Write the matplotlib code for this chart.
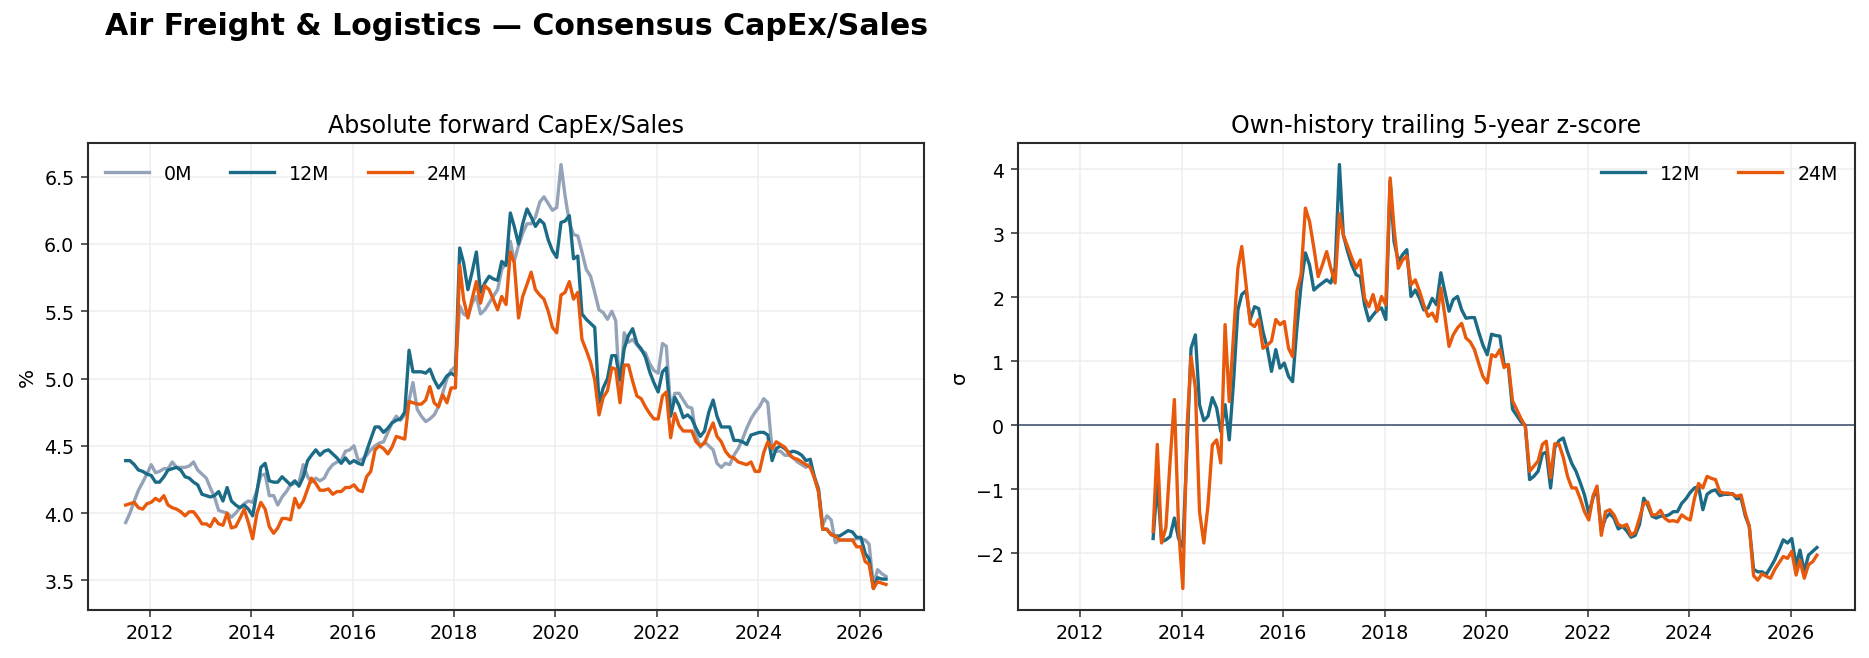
"""Air Freight & Logistics consensus CapEx/Sales: absolute level and own-history z-score."""

import matplotlib

matplotlib.use("Agg")
import matplotlib.pyplot as plt
import numpy as np
import pandas as pd

# ---- data (monthly, from Jul 2011) ----
start_month = "2011-07-01"

capex_0m = [
    3.93, 4.00, 4.09, 4.17, 4.23, 4.29, 4.36, 4.30, 4.31, 4.33,
    4.33, 4.38, 4.34, 4.34, 4.34, 4.35, 4.38, 4.32, 4.29, 4.26,
    4.19, 4.12, 4.02, 4.01, 4.00, 3.97, 4.00, 4.04, 4.07, 4.09,
    4.08, 4.17, 4.28, 4.29, 4.13, 4.13, 4.06, 4.12, 4.16, 4.21,
    4.22, 4.23, 4.36, 4.27, 4.23, 4.26, 4.24, 4.26, 4.32, 4.36,
    4.38, 4.39, 4.46, 4.47, 4.50, 4.39, 4.40, 4.43, 4.47, 4.50,
    4.52, 4.53, 4.60, 4.67, 4.72, 4.69, 4.73, 4.84, 4.97, 4.77,
    4.72, 4.68, 4.70, 4.73, 4.79, 4.89, 5.00, 5.06, 5.09, 5.54,
    5.48, 5.46, 5.56, 5.61, 5.48, 5.51, 5.56, 5.61, 5.66, 5.81,
    5.86, 6.02, 5.87, 5.99, 6.08, 6.15, 6.15, 6.20, 6.31, 6.35,
    6.30, 6.25, 6.27, 6.59, 6.36, 6.16, 6.07, 6.06, 5.94, 5.81,
    5.76, 5.64, 5.51, 5.49, 5.44, 5.50, 5.43, 4.87, 5.34, 5.27,
    5.29, 5.25, 5.21, 5.19, 5.11, 5.06, 5.04, 5.26, 5.24, 4.77,
    4.89, 4.89, 4.84, 4.79, 4.78, 4.58, 4.49, 4.53, 4.50, 4.47,
    4.37, 4.34, 4.37, 4.36, 4.43, 4.48, 4.55, 4.63, 4.70, 4.75,
    4.79, 4.85, 4.82, 4.47, 4.46, 4.46, 4.43, 4.43, 4.41, 4.38,
    4.36, 4.34, 4.37, 4.27, 4.19, 3.91, 3.98, 3.95, 3.78, 3.80,
    3.80, 3.80, 3.80, 3.81, 3.81, 3.80, 3.77, 3.46, 3.58, 3.55,
    3.53,
]

capex_12m = [
    4.39, 4.39, 4.36, 4.32, 4.31, 4.29, 4.28, 4.23, 4.23, 4.27,
    4.32, 4.33, 4.34, 4.32, 4.27, 4.26, 4.23, 4.21, 4.14, 4.13,
    4.12, 4.13, 4.16, 4.09, 4.19, 4.09, 4.06, 4.04, 4.06, 4.03,
    3.98, 4.16, 4.34, 4.37, 4.24, 4.23, 4.23, 4.27, 4.24, 4.21,
    4.24, 4.20, 4.27, 4.39, 4.43, 4.47, 4.43, 4.46, 4.47, 4.44,
    4.41, 4.37, 4.41, 4.37, 4.39, 4.37, 4.36, 4.46, 4.55, 4.64,
    4.64, 4.60, 4.63, 4.67, 4.69, 4.70, 4.75, 5.21, 5.05, 5.05,
    5.05, 5.04, 5.07, 4.99, 4.93, 4.97, 5.02, 5.04, 5.02, 5.97,
    5.86, 5.66, 5.79, 5.94, 5.64, 5.71, 5.76, 5.74, 5.73, 5.87,
    5.84, 6.23, 6.13, 6.00, 6.15, 6.26, 6.20, 6.13, 6.18, 6.15,
    6.03, 5.95, 5.90, 6.16, 6.17, 6.21, 5.89, 5.91, 5.48, 5.44,
    5.41, 5.38, 4.82, 4.93, 5.00, 5.17, 5.17, 4.99, 5.22, 5.32,
    5.37, 5.26, 5.22, 5.16, 5.05, 4.97, 4.90, 5.05, 5.08, 4.72,
    4.86, 4.80, 4.71, 4.73, 4.70, 4.63, 4.57, 4.61, 4.75, 4.84,
    4.72, 4.64, 4.64, 4.64, 4.54, 4.54, 4.53, 4.51, 4.58, 4.59,
    4.60, 4.60, 4.58, 4.39, 4.48, 4.50, 4.48, 4.45, 4.46, 4.45,
    4.43, 4.39, 4.40, 4.26, 4.17, 3.88, 3.88, 3.84, 3.83, 3.83,
    3.85, 3.87, 3.86, 3.82, 3.82, 3.70, 3.66, 3.44, 3.52, 3.51,
    3.51,
]

capex_24m = [
    4.06, 4.07, 4.08, 4.04, 4.03, 4.07, 4.08, 4.11, 4.09, 4.13,
    4.06, 4.04, 4.03, 4.01, 3.98, 4.01, 4.01, 3.97, 3.92, 3.92,
    3.90, 3.96, 3.92, 3.91, 4.00, 3.89, 3.90, 3.96, 4.03, 3.93,
    3.81, 4.00, 4.08, 4.03, 3.90, 3.85, 3.89, 3.96, 3.96, 3.95,
    4.11, 4.04, 4.09, 4.18, 4.26, 4.22, 4.17, 4.17, 4.18, 4.14,
    4.16, 4.16, 4.19, 4.19, 4.21, 4.17, 4.16, 4.27, 4.31, 4.47,
    4.50, 4.48, 4.44, 4.49, 4.57, 4.56, 4.55, 4.83, 4.82, 4.81,
    4.81, 4.84, 4.94, 4.82, 4.79, 4.88, 4.82, 4.93, 4.93, 5.84,
    5.59, 5.45, 5.59, 5.72, 5.56, 5.69, 5.66, 5.59, 5.51, 5.61,
    5.55, 5.94, 5.86, 5.45, 5.61, 5.70, 5.79, 5.66, 5.62, 5.59,
    5.50, 5.38, 5.34, 5.62, 5.64, 5.72, 5.59, 5.64, 5.29, 5.21,
    5.12, 4.99, 4.73, 4.86, 4.91, 5.08, 5.07, 4.82, 5.10, 5.10,
    4.98, 4.87, 4.85, 4.79, 4.74, 4.70, 4.70, 4.87, 4.90, 4.56,
    4.74, 4.65, 4.61, 4.61, 4.61, 4.53, 4.50, 4.52, 4.60, 4.67,
    4.57, 4.53, 4.46, 4.42, 4.41, 4.38, 4.37, 4.36, 4.38, 4.31,
    4.31, 4.45, 4.53, 4.48, 4.53, 4.51, 4.49, 4.44, 4.41, 4.40,
    4.38, 4.36, 4.34, 4.26, 4.16, 3.88, 3.88, 3.84, 3.83, 3.80,
    3.80, 3.80, 3.80, 3.75, 3.75, 3.64, 3.62, 3.44, 3.49, 3.48,
    3.47,
]

# z-score needs 24 months of history -> first value in Jun 2013
z_first_index = 23

z_12m = [
    -1.77, -0.90, -1.82, -1.79, -1.74, -1.45, -1.77,
    -1.90, -0.30, 1.20, 1.41, 0.32, 0.07, 0.14, 0.43, 0.27, -0.10,
    0.32, -0.23, 0.68, 1.80, 2.04, 2.10, 1.65, 1.85, 1.82, 1.46,
    1.20, 0.84, 1.18, 0.89, 0.97, 0.76, 0.68, 1.52, 2.19, 2.69,
    2.50, 2.11, 2.17, 2.22, 2.27, 2.22, 2.45, 4.07, 2.97, 2.71,
    2.50, 2.35, 2.32, 1.88, 1.63, 1.72, 1.80, 1.83, 1.65, 3.81,
    2.87, 2.56, 2.66, 2.74, 2.01, 2.11, 1.98, 1.80, 1.83, 1.98,
    1.88, 2.38, 2.09, 1.78, 1.96, 2.01, 1.80, 1.67, 1.68, 1.68,
    1.45, 1.25, 1.10, 1.42, 1.40, 1.39, 0.95, 0.92, 0.25, 0.15,
    0.05, 0.00, -0.85, -0.80, -0.72, -0.45, -0.42, -0.98, -0.35, -0.24,
    -0.20, -0.42, -0.60, -0.72, -0.90, -1.09, -1.38, -1.13, -1.00, -1.65,
    -1.45, -1.38, -1.45, -1.62, -1.58, -1.65, -1.75, -1.72, -1.55, -1.14,
    -1.25, -1.42, -1.45, -1.42, -1.42, -1.40, -1.35, -1.35, -1.22, -1.15,
    -1.05, -0.98, -0.96, -1.32, -1.08, -1.03, -1.01, -1.10, -1.08, -1.08,
    -1.07, -1.15, -1.14, -1.42, -1.58, -2.25, -2.29, -2.29, -2.33, -2.22,
    -2.10, -1.95, -1.79, -1.84, -1.77, -2.19, -1.95, -2.29, -2.03, -1.97,
    -1.91,
]

z_24m = [
    -1.66, -0.30, -1.84, -1.60, -0.57, 0.40, -1.60,
    -2.55, 0.00, 1.07, 0.58, -1.35, -1.84, -1.25, -0.31, -0.23, -0.59,
    1.57, 0.37, 1.41, 2.45, 2.79, 2.19, 1.59, 1.54, 1.65, 1.20,
    1.25, 1.31, 1.65, 1.57, 1.62, 1.20, 1.07, 2.09, 2.35, 3.39,
    3.18, 2.77, 2.32, 2.50, 2.71, 2.45, 2.22, 3.30, 2.97, 2.79,
    2.61, 2.45, 2.58, 1.98, 1.85, 2.04, 1.78, 2.01, 1.88, 3.86,
    3.08, 2.45, 2.58, 2.64, 2.19, 2.27, 2.09, 1.88, 1.70, 1.75,
    1.62, 2.14, 1.72, 1.23, 1.41, 1.52, 1.59, 1.36, 1.30, 1.18,
    0.96, 0.76, 0.66, 1.10, 1.07, 1.18, 0.90, 0.95, 0.38, 0.24,
    0.10, -0.02, -0.72, -0.64, -0.56, -0.30, -0.25, -0.82, -0.29, -0.30,
    -0.50, -0.80, -0.98, -0.98, -1.15, -1.35, -1.48, -1.10, -0.95, -1.72,
    -1.35, -1.32, -1.40, -1.55, -1.58, -1.55, -1.72, -1.67, -1.45, -1.22,
    -1.20, -1.40, -1.40, -1.33, -1.45, -1.50, -1.49, -1.51, -1.40, -1.45,
    -1.48, -1.14, -0.91, -0.98, -0.80, -0.83, -0.85, -1.04, -1.06, -1.06,
    -1.08, -1.11, -1.09, -1.38, -1.58, -2.35, -2.42, -2.32, -2.36, -2.39,
    -2.25, -2.15, -2.05, -2.08, -1.97, -2.34, -2.11, -2.39, -2.18, -2.13,
    -2.03,
]

C_0M = "#94a3b8"
C_12M = "#1b6b87"
C_24M = "#e8590c"
C_ZERO = "#5b6b84"


def style_axis(ax):
    ax.grid(True, color="#ededed", linewidth=0.8)
    ax.set_axisbelow(True)
    for sp in ax.spines.values():
        sp.set_color("#2b2b2b")
        sp.set_linewidth(1.1)
    ax.tick_params(labelsize=10, color="#2b2b2b")


def main() -> None:
    dates = pd.date_range(start_month, periods=len(capex_12m), freq="MS") + pd.Timedelta(days=9)

    pad = [np.nan] * z_first_index
    z12 = np.array(pad + z_12m, dtype=float)
    z24 = np.array(pad + z_24m, dtype=float)

    fig = plt.figure(figsize=(1869 / 137, 659 / 137), dpi=137)
    ax1 = fig.add_axes([0.0469, 0.0733, 0.4475, 0.7077])
    ax2 = fig.add_axes([0.5445, 0.0733, 0.4480, 0.7077], sharex=ax1)

    lw = 1.75
    leg_kw = dict(frameon=False, fontsize=10, handlelength=2.3)

    ax1.plot(dates, capex_0m, color=C_0M, lw=lw, label="0M")
    ax1.plot(dates, capex_12m, color=C_12M, lw=lw, label="12M")
    ax1.plot(dates, capex_24m, color=C_24M, lw=lw, label="24M")
    ax1.set_title("Absolute forward CapEx/Sales", fontsize=12.5)
    ax1.set_ylabel("%", fontsize=10.5)
    ax1.legend(loc="upper left", bbox_to_anchor=(0, 0.993), ncol=3, **leg_kw)
    style_axis(ax1)

    ax2.axhline(0, color=C_ZERO, lw=1.0)
    ax2.plot(dates, z12, color=C_12M, lw=lw, label="12M")
    ax2.plot(dates, z24, color=C_24M, lw=lw, label="24M")
    ax2.set_title("Own-history trailing 5-year z-score", fontsize=12.5)
    ax2.set_ylabel("σ", fontsize=10.5)
    ax2.legend(loc="upper right", bbox_to_anchor=(1, 0.993), ncol=2, **leg_kw)
    style_axis(ax2)

    fig.text(0.0562, 0.9469, "Air Freight & Logistics — Consensus CapEx/Sales",
             fontsize=15.8, fontweight="bold", ha="left", va="baseline")

    fig.savefig("out.png", dpi=137)
    plt.close(fig)


if __name__ == "__main__":
    main()
